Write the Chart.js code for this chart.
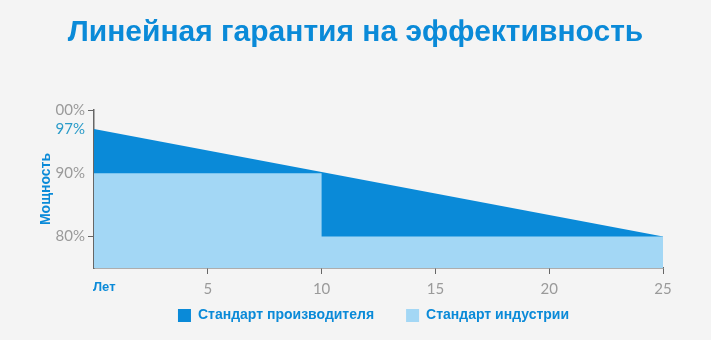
<!DOCTYPE html>
<html>
<head>
<meta charset="utf-8">
<script src="https://cdn.jsdelivr.net/npm/chart.js@4"></script>
<style>
  html, body { margin: 0; padding: 0; background: #f4f4f4; }
  #wrap { width: 711px; height: 340px; }
</style>
</head>
<body>
<div id="wrap"><canvas id="chart" width="711" height="340"></canvas></div>
<script>
// данные
const anosFabricante = [0, 25];
const potenciaFabricante = [97, 80];
const anosIndustria = [0, 10, 10, 25];
const potenciaIndustria = [90, 90, 80, 80];
const ticksY = [100, 97, 90, 80];
const etiquetasY = ["00%", "97%", "90%", "80%"];
const ticksX = [5, 10, 15, 20, 25];

const azulOscuro = "#0a8ad8";
const azulClaro = "#a3d7f5";

// "Лет" bajo el origen + mover la leyenda
const ajustes = {
  id: "ajustes",
  afterLayout(chart) {
    const l = chart.legend;
    if (l) {
      const d = l.top + 32 + 6.5 - 315;
      l.top -= d;
      l.bottom -= d;
      l.left += 18;
      l.right += 18;
    }
  },
  afterDraw(chart) {
    const ctx = chart.ctx;
    const x = chart.scales.x.getPixelForValue(0);
    ctx.save();
    ctx.font = "bold 13px 'Liberation Sans', Arial, sans-serif";
    ctx.fillStyle = azulOscuro;
    ctx.textAlign = "left";
    ctx.textBaseline = "middle";
    ctx.fillText("Лет", x - 1, 287);
    ctx.restore();
  }
};

const ctx = document.getElementById("chart");
new Chart(ctx, {
  type: "line",
  data: {
    datasets: [
      {
        label: "Стандарт производителя",
        data: anosFabricante.map((a, i) => ({ x: a, y: potenciaFabricante[i] })),
        backgroundColor: azulOscuro,
        borderColor: azulOscuro,
        borderWidth: 0,
        pointRadius: 0,
        fill: "start",
        order: 2,
      },
      {
        label: "Стандарт индустрии",
        data: anosIndustria.map((a, i) => ({ x: a, y: potenciaIndustria[i] })),
        backgroundColor: azulClaro,
        borderColor: azulClaro,
        borderWidth: 0,
        pointRadius: 0,
        fill: "start",
        order: 1,
      },
    ],
  },
  plugins: [ajustes],
  options: {
    responsive: false,
    animation: false,
    layout: { padding: { top: 0, right: 0, bottom: -12, left: 0 } },
    plugins: {
      tooltip: { enabled: false },
      title: {
        display: true,
        text: "Линейная гарантия на эффективность",
        color: azulOscuro,
        font: { family: "'Liberation Sans', Arial, sans-serif", size: 30, weight: "bold" },
        padding: { top: 15, bottom: 59 },
      },
      legend: {
        position: "bottom",
        labels: {
          color: azulOscuro,
          font: { family: "'Liberation Sans', Arial, sans-serif", size: 14, weight: "bold" },
          boxWidth: 13,
          boxHeight: 13,
          padding: 32,
          sort: (a, b) => a.datasetIndex - b.datasetIndex,
        },
      },
    },
    scales: {
      x: {
        type: "linear",
        min: 0,
        max: 25,
        afterBuildTicks(scale) {
          scale.ticks = ticksX.map(v => ({ value: v }));
        },
        afterFit(scale) {
          scale.height = 28;
        },
        ticks: {
          color: "#9a9a9a",
          font: { family: "Lato, sans-serif", size: 15 },
          padding: 6,
          maxRotation: 0,
          autoSkip: false,
        },
        grid: { drawOnChartArea: false, tickLength: 6, color: "#666" },
        border: { color: "#666", width: 1.5 },
      },
      y: {
        min: 75,
        max: 100,
        afterBuildTicks(scale) {
          scale.ticks = ticksY.map(v => ({ value: v }));
        },
        afterFit(scale) {
          scale.width = 94;
        },
        ticks: {
          color: c => (c.tick && c.tick.value === 97 ? "#2a9bc9" : "#9a9a9a"),
          font: { family: "Lato, sans-serif", size: 15 },
          padding: 3,
          autoSkip: false,
          callback: (v) => etiquetasY[ticksY.indexOf(v)],
        },
        grid: {
          drawOnChartArea: false,
          tickLength: 6,
          tickColor: c => (c.tick && (c.tick.value === 100 || c.tick.value === 80) ? "#666" : "transparent"),
        },
        border: { color: "#666", width: 1.5 },
        title: {
          display: true,
          text: "Мощность",
          color: azulOscuro,
          font: { family: "'Liberation Sans', Arial, sans-serif", size: 14, weight: "bold" },
          padding: { top: 38, bottom: 0 },
        },
      },
      // margen derecho vacío
      derecha: {
        type: "linear",
        position: "right",
        afterFit(scale) {
          scale.width = 48;
        },
        ticks: { display: false },
        grid: { display: false },
        border: { display: false },
      },
    },
  },
});
</script>
</body>
</html>
